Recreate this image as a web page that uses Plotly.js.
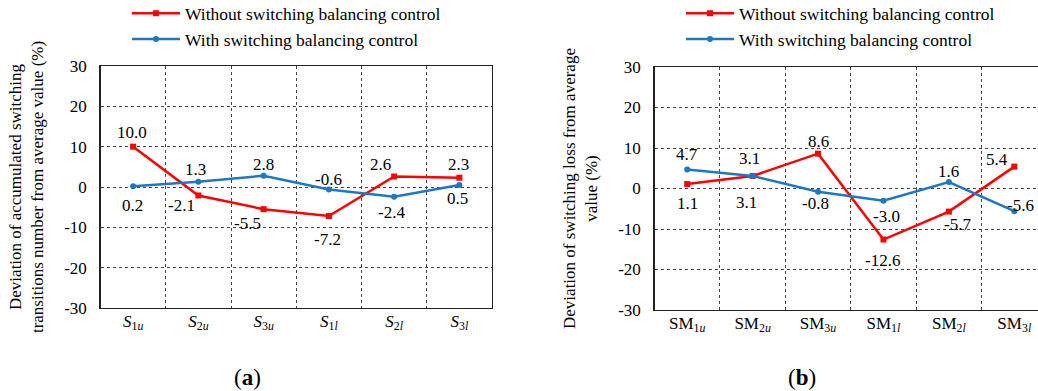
<!DOCTYPE html>
<html>
<head>
<meta charset="utf-8">
<script src="https://cdn.plot.ly/plotly-3.0.1.min.js"></script>
<style>
html, body { margin: 0; padding: 0; overflow: hidden; background: #fff; }
#chart { width: 1050px; height: 391px; }
</style>
</head>
<body>
<div id="chart"></div>
<script>
// ---- data ----
const categoriesA = ["S1u", "S2u", "S3u", "S1l", "S2l", "S3l"];
const tickLabelsA = ["<i>S</i><sub>1<i>u</i></sub>", "<i>S</i><sub>2<i>u</i></sub>", "<i>S</i><sub>3<i>u</i></sub>",
                     "<i>S</i><sub>1<i>l</i></sub>", "<i>S</i><sub>2<i>l</i></sub>", "<i>S</i><sub>3<i>l</i></sub>"];
const withoutA = [10.0, -2.1, -5.5, -7.2, 2.6, 2.3];
const withA = [0.2, 1.3, 2.8, -0.6, -2.4, 0.5];

const categoriesB = ["SM1u", "SM2u", "SM3u", "SM1l", "SM2l", "SM3l"];
const tickLabelsB = ["SM<sub>1<i>u</i></sub>", "SM<sub>2<i>u</i></sub>", "SM<sub>3<i>u</i></sub>",
                     "SM<sub>1<i>l</i></sub>", "SM<sub>2<i>l</i></sub>", "SM<sub>3<i>l</i></sub>"];
const withoutB = [1.1, 3.1, 8.6, -12.6, -5.7, 5.4];
const withB = [4.7, 3.1, -0.8, -3.0, 1.6, -5.6];

const yTickVals = [-30, -20, -10, 0, 10, 20, 30];
const yTickText = ["-30", "-20", "-10", "0", "10", "20", "30"];

const seriesNames = ["Without switching balancing control", "With switching balancing control"];

// ---- style ----
const RED = "#ff0000";
const BLUE = "#1f77c4";
const FONT = "Liberation Serif, serif";
const FS = 17;
const fmt = v => v.toFixed(1);

// value-label pixel offsets from their point [dx, dy(down)] (style only)
const offWithoutA = [[-1, -14], [-17, 10], [-16, 14], [-1, 23], [-14, -12], [-1, -13]];
const offWithA    = [[-1, 19], [-3, -12], [0, -11], [0, -10], [-3, 16], [-2, 14]];
const offWithoutB = [[0, 19], [-6, 27], [0, -12], [-1, 21], [9, 13], [-17, -7]];
const offWithB    = [[0, -15], [-3, -17], [-3, 12], [3, 16], [0, -11], [6, -6]];

function trace(x, y, name, color, sym, xa, ya, legend) {
  return {
    x: x, y: y, name: name, type: "scatter", mode: "lines+markers",
    xaxis: xa, yaxis: ya, legend: legend,
    line: { color: color, width: 2.5 },
    marker: { color: color, size: 6, symbol: sym },
    cliponaxis: false
  };
}

function labels(x, y, off, xref, yref) {
  return y.map((v, i) => ({
    x: x[i], y: v, xref: xref, yref: yref, text: fmt(v), showarrow: false,
    xanchor: "center", yanchor: "middle",
    xshift: off[i][0], yshift: -off[i][1],
    font: { family: FONT, size: FS, color: "#000" }
  }));
}

const data = [
  trace(categoriesA, withoutA, seriesNames[0], RED, "square", "x", "y", "legend"),
  trace(categoriesA, withA, seriesNames[1], BLUE, "circle", "x", "y", "legend"),
  trace(categoriesB, withoutB, seriesNames[0], RED, "square", "x2", "y2", "legend2"),
  trace(categoriesB, withB, seriesNames[1], BLUE, "circle", "x2", "y2", "legend2")
];

function xAxis(domain, cats, labels, anchor) {
  return {
    domain: domain, anchor: anchor, type: "category",
    tickvals: cats, ticktext: labels, tickson: "boundaries",
    showgrid: true, gridcolor: "#444", griddash: "dot", gridwidth: 1,
    showline: true, linecolor: "#222", linewidth: 1.3, mirror: true,
    ticks: "", ticklabelstandoff: -3,
    tickfont: { family: FONT, size: FS, color: "#000" },
    range: [-0.5, 5.5], fixedrange: true
  };
}
function yAxis(domain, title, anchor) {
  return {
    domain: domain, anchor: anchor, range: [-30, 30],
    tickvals: yTickVals, ticktext: yTickText,
    showgrid: true, gridcolor: "#444", griddash: "dot", gridwidth: 1,
    zeroline: false,
    showline: true, linecolor: "#222", linewidth: 1.3, mirror: true,
    ticks: "", ticklabelstandoff: 9,
    tickfont: { family: FONT, size: FS, color: "#000" },
    title: { text: title, font: { family: FONT, size: FS, color: "#000" }, standoff: 16 }
  };
}

const W = 1050, H = 391;
const layout = {
  width: W, height: H,
  margin: { l: 0, r: 0, t: 0, b: 0, autoexpand: false },
  paper_bgcolor: "#fff", plot_bgcolor: "#fff",
  showlegend: true,
  font: { family: FONT, size: FS, color: "#000" },
  xaxis: xAxis([100.5 / W, 492 / W], categoriesA, tickLabelsA, "y"),
  yaxis: yAxis([1 - 308 / H, 1 - 66 / H], "Deviation of accumulated switching<br>transitions number from average value (%)", "x"),
  xaxis2: xAxis([654.5 / W, 1047 / W], categoriesB, tickLabelsB, "y2"),
  yaxis2: yAxis([1 - 310 / H, 1 - 67 / H], "Deviation of switching loss from average<br>value (%)", "x2"),
  legend: {
    x: 127 / W, y: 1.012, xanchor: "left", yanchor: "top",
    font: { family: FONT, size: 17.5, color: "#000" },
    bgcolor: "rgba(0,0,0,0)", itemwidth: 48, tracegroupgap: 0
  },
  legend2: {
    x: 681 / W, y: 1.012, xanchor: "left", yanchor: "top",
    font: { family: FONT, size: 17.5, color: "#000" },
    bgcolor: "rgba(0,0,0,0)", itemwidth: 48, tracegroupgap: 0
  },
  annotations: [
    ...labels(categoriesA, withoutA, offWithoutA, "x", "y"),
    ...labels(categoriesA, withA, offWithA, "x", "y"),
    ...labels(categoriesB, withoutB, offWithoutB, "x2", "y2"),
    ...labels(categoriesB, withB, offWithB, "x2", "y2"),
    { text: "(<b>a</b>)", xref: "paper", yref: "paper", x: 247 / W, y: 1 - 377 / H,
      xanchor: "center", yanchor: "middle",
      showarrow: false, font: { family: FONT, size: 23, color: "#000" } },
    { text: "(<b>b</b>)", xref: "paper", yref: "paper", x: 802 / W, y: 1 - 377 / H,
      xanchor: "center", yanchor: "middle",
      showarrow: false, font: { family: FONT, size: 23, color: "#000" } }
  ]
};

Plotly.newPlot("chart", data, layout, { displayModeBar: false, staticPlot: true });
</script>
</body>
</html>
